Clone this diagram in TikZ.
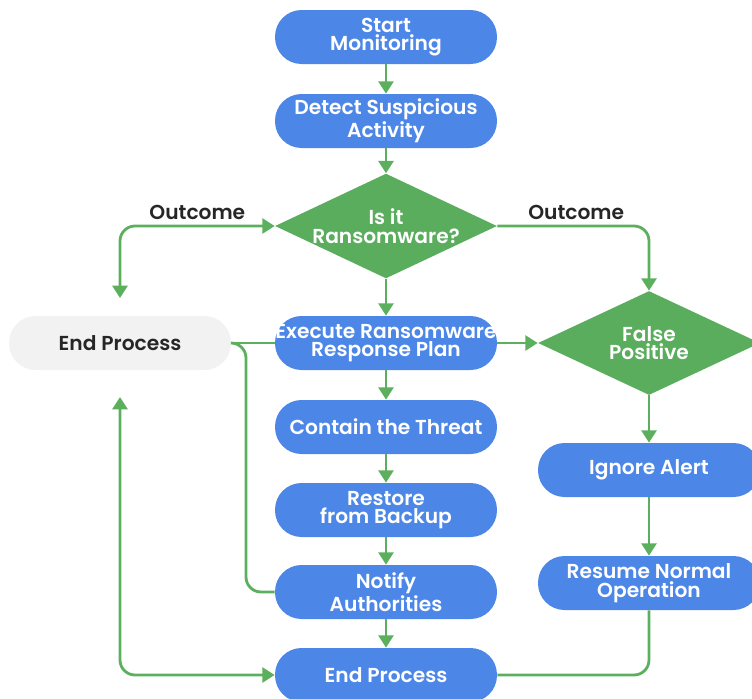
\documentclass[tikz,border=0pt]{standalone}
\usepackage{fontspec}
\setmainfont{Poppins}[BoldFont={Poppins SemiBold}]
\usetikzlibrary{arrows.meta,shapes.geometric,calc}
\definecolor{boxblue}{HTML}{4C87E8}
\definecolor{dgreen}{HTML}{5BAD5E}
\definecolor{lgreen}{HTML}{5CAF5C}
\definecolor{endgray}{HTML}{F2F2F2}
\tikzset{
  pill/.style={rounded corners=0.53cm, minimum width=4.44cm, minimum height=1.08cm,
    fill=boxblue, text=white, align=center, font=\bfseries\fontsize{11.5}{10.6}\selectfont, inner sep=1pt},
  endpill/.style={pill, fill=endgray, text=black!85},
  decide/.style={diamond, aspect=2.1, minimum width=4.44cm, minimum height=2.08cm, inner sep=0pt,
    fill=dgreen, text=white, align=center, font=\bfseries\fontsize{11.5}{10.6}\selectfont},
  link/.style={draw=lgreen, line width=1.6pt, rounded corners=0.3cm},
  arr/.style={link, -{Triangle[length=7pt,width=8.5pt]}},
  both/.style={link, {Triangle[length=7pt,width=8.5pt]}-{Triangle[length=7pt,width=8.5pt]}},
  lbl/.style={text=black!85, inner sep=1pt, font=\bfseries\fontsize{11.5}{12}\selectfont}
}
\begin{document}
\begin{tikzpicture}[x=0.02cm, y=-0.02cm]
\useasboundingbox (0,0) rectangle (752,698);

% main column
\node (start) at (386,37) [pill] {Start\\Monitoring};
\node (detect) at (386,121) [pill] {Detect Suspicious\\Activity};
\node (isit) at (386,226) [decide] {Is it\\Ransomware?};
\node (exec) at (386,343) [pill] {\makebox[0pt]{Execute Ransomware}\\Response Plan};
\node (contain) at (386,427) [pill] {Contain the Threat};
\node (restore) at (386,510) [pill] {Restore\\from Backup};
\node (notify) at (386,592) [pill] {Notify\\Authorities};
\node (endb) at (386,675) [pill] {End Process};

% side columns
\node (endl) at (120,343) [endpill] {End Process};
\node (falsepos) at (649,343) [decide] {False\\Positive};
\node (ignore) at (649,470) [pill] {Ignore Alert};
\node (resume) at (649,583) [pill] {Resume Normal\\Operation};

\coordinate (upend) at (120,298);
\coordinate (lowend) at (120,397);
\coordinate (bend) at (246,343);

\draw[arr] (start) -- (detect);
\draw[arr] (detect) -- (isit);
\draw[arr] (isit) -- (exec);
\draw[arr] (exec) -- (contain);
\draw[arr] (contain) -- (restore);
\draw[arr] (restore) -- (notify);
\draw[arr] (notify) -- (endb);
\draw[arr] (exec) -- (falsepos);
\draw[arr] (falsepos) -- (ignore);
\draw[arr] (ignore) -- (resume);

\draw[both] (upend) |- (isit.west) node[lbl, pos=0.75, above=2pt] {Outcome};
\draw[arr] (isit.east) -| (falsepos.north) node[lbl, pos=0.26, above=2pt] {Outcome};
\draw[link] (endl.east) -- (exec.west);
\draw[link] (endl.east) -- (bend) |- (notify.west);
\draw[both] (lowend) |- (endb.west);
\draw[link] (resume.south) |- (endb.east);
\end{tikzpicture}
\end{document}
